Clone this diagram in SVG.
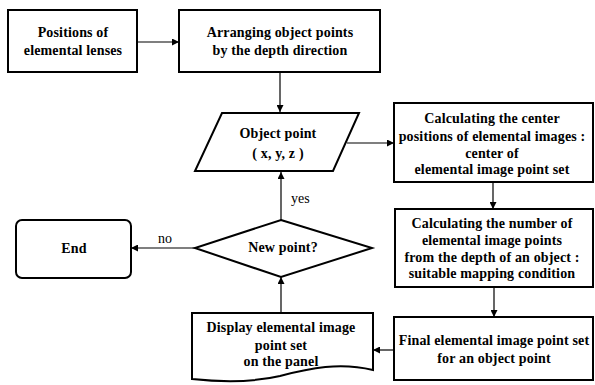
<svg xmlns="http://www.w3.org/2000/svg" width="595" height="385" viewBox="0 0 595 385">
<defs>
<marker id="ah" viewBox="0 0 10 10" refX="10" refY="5" markerWidth="7" markerHeight="7" orient="auto" markerUnits="userSpaceOnUse">
<path d="M0,0 L10,5 L0,10 z" fill="#000"/>
</marker>
<style>
.n{fill:#fff;stroke:#000;stroke-width:2}
.t{font-family:"Liberation Serif","Times New Roman",serif;font-weight:bold;font-size:14px;letter-spacing:0.15px;text-anchor:middle;fill:#000}
.l{font-family:"Liberation Serif","Times New Roman",serif;font-size:14px;fill:#000}
.c{fill:none;stroke:#000;stroke-width:1.2;marker-end:url(#ah)}
</style>
</defs>
<rect width="595" height="385" fill="#fff"/>
<g id="connectors">
<line class="c" x1="137" y1="42" x2="179" y2="42"/>
<line class="c" x1="280" y1="72" x2="280" y2="112"/>
<line class="c" x1="347" y1="143" x2="394" y2="143"/>
<line class="c" x1="493" y1="182" x2="493" y2="209"/>
<line class="c" x1="494" y1="287" x2="494" y2="317"/>
<line class="c" x1="394" y1="350" x2="373" y2="350"/>
<line class="c" x1="281" y1="313" x2="281" y2="277"/>
<line class="c" x1="281" y1="220" x2="281" y2="172"/>
<line class="c" x1="195" y1="248" x2="131" y2="248"/>
<text class="l" x="291" y="203">yes</text>
<text class="l" x="158" y="243">no</text>
</g>
<g id="lenses">
<rect class="n" x="8" y="10" width="129" height="62"/>
<text class="t" x="73" y="37">Positions of</text>
<text class="t" x="73" y="55">elemental lenses</text>
</g>
<g id="arranging">
<rect class="n" x="179" y="10" width="201" height="62"/>
<text class="t" x="280" y="37">Arranging object points</text>
<text class="t" x="280" y="55">by the depth direction</text>
</g>
<g id="objectpoint">
<polygon class="n" points="222,113 359,113 333,171 195,171"/>
<text class="t" x="278" y="138">Object point</text>
<text class="t" x="278" y="158">( x, y, z )</text>
</g>
<g id="center">
<rect class="n" x="394" y="103" width="199" height="79"/>
<text class="t" x="492" y="123">Calculating the center</text>
<text class="t" x="492" y="141">positions of elemental images :</text>
<text class="t" x="492" y="158">center of</text>
<text class="t" x="492" y="174">elemental image point set</text>
</g>
<g id="number">
<rect class="n" x="395" y="209" width="198" height="78"/>
<text class="t" x="492" y="228">Calculating the number of</text>
<text class="t" x="492" y="245">elemental image points</text>
<text class="t" x="492" y="262">from the depth of an object :</text>
<text class="t" x="492" y="278">suitable mapping condition</text>
</g>
<g id="final">
<rect class="n" x="394" y="317" width="199" height="63"/>
<text class="t" x="494" y="345">Final elemental image point set</text>
<text class="t" x="494" y="363">for an object point</text>
</g>
<g id="display">
<path class="n" d="M192,313 L373,313 L373,370 C340,362 310,368 280,376 C250,383 220,382 192,379 Z"/>
<text class="t" x="281" y="332">Display elemental image</text>
<text class="t" x="281" y="350">point set</text>
<text class="t" x="281" y="366">on the panel</text>
</g>
<g id="newpoint">
<polygon class="n" points="281,220 372,248 281,277 195,248"/>
<text class="t" x="283" y="252">New point?</text>
</g>
<g id="end">
<rect class="n" x="16" y="220" width="115" height="58" rx="6"/>
<text class="t" x="74" y="253">End</text>
</g>
</svg>
